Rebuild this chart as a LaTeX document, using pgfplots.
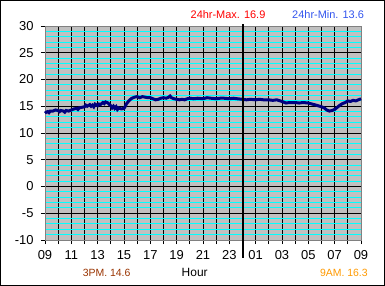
\documentclass[border=0pt]{standalone}
\usepackage{pgfplots}
\pgfplotsset{compat=1.18}
\usepackage{fontspec}
\setmainfont{Liberation Sans}
\definecolor{bggray}{HTML}{C0C0C0}
\definecolor{navyline}{HTML}{000080}
\definecolor{minblue}{HTML}{3355EE}
\definecolor{pmbrown}{HTML}{993300}
\definecolor{amorange}{HTML}{FF9900}
\definecolor{gridcyan}{HTML}{00FFFF}
\begin{document}
\begin{tikzpicture}
\begin{axis}[
  scale only axis, width=316bp, height=214bp,
  xmin=9, xmax=33, ymin=-10, ymax=30,
  xtick={9,...,33},
  xticklabels={09,,11,,13,,15,,17,,19,,21,,23,,01,,03,,05,,07,,09},
  ytick={-10,-5,...,30},
  minor y tick num=4,
  grid=both,
  major grid style={black, line width=1bp},
  minor grid style={gridcyan, line width=1bp},
  axis background/.style={fill=bggray},
  axis line style={draw=gray, line width=1bp},
  tick align=outside, major tick length=4bp, minor tick length=0pt,
  xtick pos=left, ytick pos=left,
  tick style={black, line width=1bp},
  ticklabel style={font=\fontsize{13}{13}\selectfont},
  xticklabel style={yshift=-3bp},
  yticklabel style={xshift=-4bp},
  /pgf/number format/assume math mode=true,
  clip=false,
]
\addplot[navyline, line width=3bp] table {
x y
9.0 13.7
9.1 13.9
9.2 14.0
9.3 13.8
9.4 14.1
9.6 14.1
9.8 14.3
10.0 14.2
10.1 14.0
10.2 14.2
10.4 14.1
10.5 13.9
10.6 14.2
10.8 14.1
11.0 14.3
11.2 14.5
11.4 14.6
11.5 14.4
11.6 14.7
11.8 14.8
12.0 14.9
12.1 15.2
12.2 15.0
12.4 15.3
12.5 15.0
12.6 15.2
12.7 14.9
12.8 15.4
13.0 15.1
13.1 15.4
13.2 15.3
13.4 15.7
13.5 15.5
13.6 15.8
13.8 15.6
13.9 15.3
14.0 15.1
14.1 14.7
14.2 15.0
14.3 14.6
14.4 14.9
14.5 14.4
14.6 14.7
14.8 14.5
15.0 14.6
15.1 15.0
15.2 15.5
15.4 16.1
15.6 16.5
15.8 16.7
16.0 16.8
16.2 16.6
16.4 16.8
16.6 16.7
16.8 16.6
17.0 16.6
17.2 16.4
17.4 16.2
17.6 16.3
17.8 16.5
18.0 16.6
18.2 16.5
18.4 16.7
18.5 16.9
18.6 16.6
18.8 16.4
19.0 16.3
19.2 16.2
19.4 16.3
19.6 16.2
19.8 16.4
20.0 16.5
20.3 16.4
20.6 16.5
21.0 16.4
21.3 16.6
21.6 16.5
22.0 16.4
22.3 16.5
22.6 16.5
23.0 16.4
23.3 16.5
23.6 16.4
24.0 16.3
24.3 16.2
24.6 16.3
25.0 16.2
25.3 16.3
25.6 16.2
26.0 16.2
26.3 16.1
26.6 16.2
27.0 15.9
27.3 15.6
27.6 15.7
28.0 15.7
28.3 15.6
28.6 15.7
29.0 15.6
29.3 15.4
29.6 15.2
30.0 14.9
30.2 14.7
30.4 14.3
30.6 14.1
30.8 14.2
31.0 14.4
31.2 14.8
31.4 15.2
31.6 15.5
31.8 15.7
32.0 16.0
32.2 15.9
32.4 16.1
32.6 16.0
32.8 16.2
33.0 16.4
};
\draw[black, line width=2bp] ([yshift=2bp]axis cs:24,30) -- ([yshift=-18bp]axis cs:24,-10);
\node[red, anchor=base, font=\fontsize{11}{11}\selectfont] at (axis cs:22.9,31.44) {24hr-Max. 16.9};
\node[minblue, anchor=base, font=\fontsize{11}{11}\selectfont] at (axis cs:30.5,31.44) {24hr-Min. 13.6};
\node[pmbrown, anchor=base, font=\fontsize{10.5}{10.5}\selectfont] at (axis cs:13.68,-16.86) {3PM. 14.6};
\node[black, anchor=base, font=\fontsize{12}{12}\selectfont] at (axis cs:20.37,-16.86) {Hour};
\node[amorange, anchor=base, font=\fontsize{10.5}{10.5}\selectfont] at (axis cs:31.7,-16.86) {9AM. 16.3};
\end{axis}
\draw[black, line width=1bp] ([xshift=-44.5bp,yshift=-45.5bp]current axis.south west) rectangle ([xshift=23.5bp,yshift=25.5bp]current axis.north east);
\end{tikzpicture}
\end{document}
